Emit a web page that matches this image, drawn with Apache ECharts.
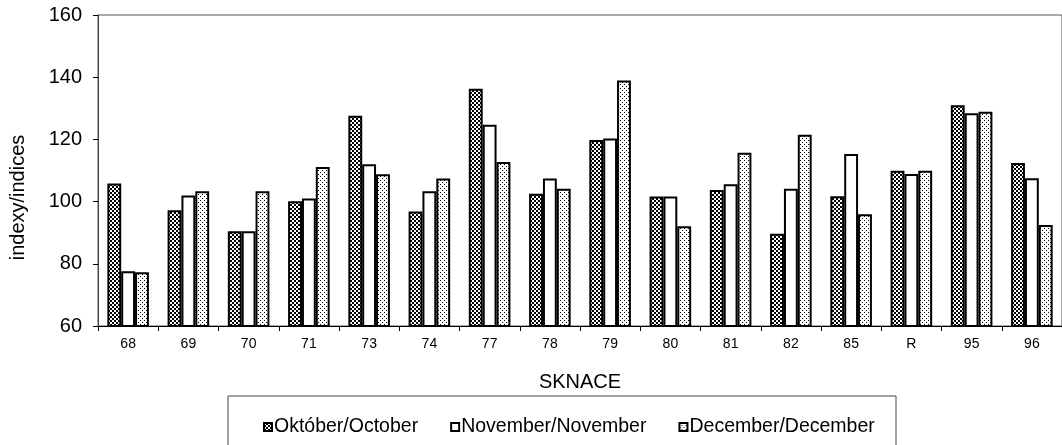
<!DOCTYPE html>
<html>
<head>
<meta charset="utf-8">
<script src="https://cdn.jsdelivr.net/npm/echarts@6/dist/echarts.min.js"></script>
<style>html,body{margin:0;padding:0;background:#fff}#c{width:1062px;height:445px}</style>
</head>
<body>
<div id="c"></div>
<script>
const categories = ['68','69','70','71','73','74','77','78','79','80','81','82','85','R','95','96'];
const october = [105.8, 97.2, 90.5, 100.1, 127.6, 96.8, 136.3, 102.5, 119.8, 101.6, 103.7, 89.7, 101.7, 109.9, 131.0, 112.4];
const november = [77.6, 102.0, 90.5, 101.0, 112.0, 103.3, 124.7, 107.4, 120.3, 101.6, 105.6, 104.1, 115.3, 108.9, 128.4, 107.5];
const december = [77.3, 103.3, 103.3, 111.1, 108.8, 107.4, 112.7, 104.1, 138.9, 92.1, 115.7, 121.5, 95.9, 109.9, 128.9, 92.5];
const seriesNames = ['Október/October', 'November/November', 'December/December'];
const yTicks = { min: 60, max: 160, interval: 20 };

function checker() {
  const c = document.createElement('canvas'); c.width = 4; c.height = 4;
  const g = c.getContext('2d');
  g.fillStyle = '#000'; g.fillRect(0, 0, 4, 4);
  g.fillStyle = '#fff'; g.fillRect(0, 0, 2, 2); g.fillRect(2, 2, 2, 2);
  return c;
}
function dots() {
  const c = document.createElement('canvas'); c.width = 4; c.height = 4;
  const g = c.getContext('2d');
  g.fillStyle = '#fff'; g.fillRect(0, 0, 4, 4);
  g.fillStyle = '#000'; g.fillRect(0, 0, 1, 1); g.fillRect(2, 2, 1, 1);
  return c;
}
const fills = [
  { image: checker(), repeat: 'repeat' },
  '#ffffff',
  { image: dots(), repeat: 'repeat' }
];
const dataSets = [october, november, december];
const font = 'Liberation Sans, Arial, sans-serif';

const chart = echarts.init(document.getElementById('c'), null, { renderer: 'canvas' });
chart.setOption({
  animation: false,
  backgroundColor: '#fff',
  textStyle: { fontFamily: font, color: '#000' },
  grid: { left: 97, top: 15, width: 974, height: 311, show: true, borderColor: '#555', borderWidth: 1, backgroundColor: 'transparent' },
  legend: {
    left: 258, top: 412, itemWidth: 8, itemHeight: 8, itemGap: 32,
    icon: 'rect',
    textStyle: { fontFamily: font, fontSize: 19.5, color: '#000', padding: [0, 0, 0, -3] },
    data: seriesNames
  },
  graphic: [{
    type: 'rect', shape: { x: 228, y: 396, width: 668, height: 60 },
    style: { fill: 'none', stroke: '#444', lineWidth: 1 }, silent: true
  }],
  xAxis: {
    type: 'category', data: categories,
    name: 'SKNACE', nameLocation: 'middle', nameGap: 46,
    nameTextStyle: { fontFamily: font, fontSize: 20, color: '#000' },
    axisLine: { lineStyle: { color: '#000', width: 1 } },
    axisTick: { show: true, length: 5, lineStyle: { color: '#000' } },
    axisLabel: { fontFamily: font, fontSize: 14, color: '#000', margin: 11 }
  },
  yAxis: {
    type: 'value', min: yTicks.min, max: yTicks.max, interval: yTicks.interval,
    name: 'indexy/indices', nameLocation: 'middle', nameGap: 70,
    nameTextStyle: { fontFamily: font, fontSize: 20, color: '#000', padding: [0, 54, 0, 0] },
    axisLine: { show: true, lineStyle: { color: '#444', width: 1 } },
    axisTick: { show: true, length: 5, lineStyle: { color: '#000' } },
    splitLine: { show: false },
    axisLabel: { fontFamily: font, fontSize: 20, color: '#000', margin: 16 }
  },
  series: dataSets.map((d, i) => ({
    name: seriesNames[i], type: 'bar', data: d,
    barGap: '0%', barCategoryGap: '31%',
    itemStyle: { color: fills[i], borderColor: '#000', borderWidth: 2 }
  }))
});
</script>
</body>
</html>
